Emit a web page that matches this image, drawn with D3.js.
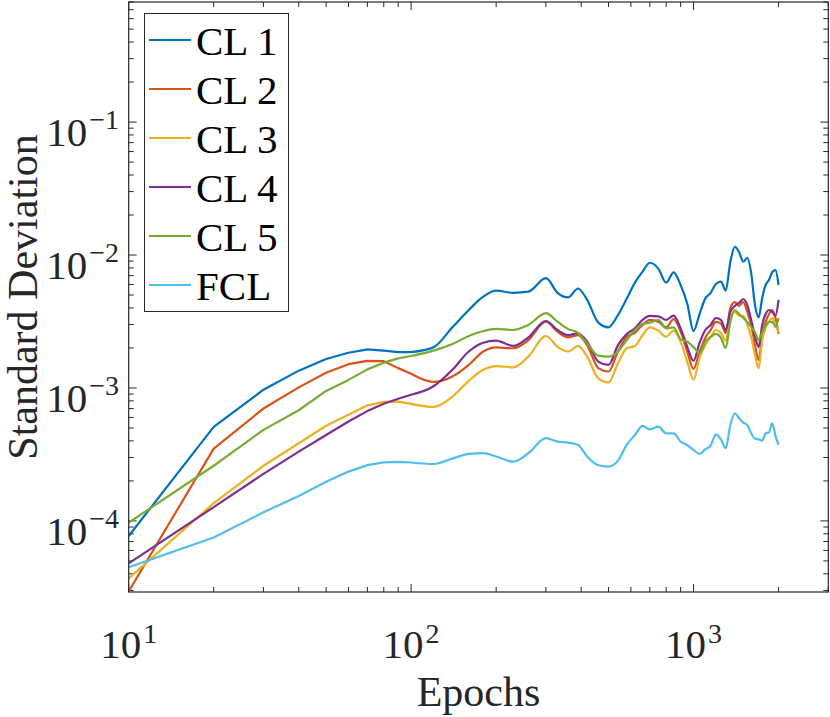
<!DOCTYPE html>
<html>
<head>
<meta charset="utf-8">
<script src="https://cdn.jsdelivr.net/npm/d3@7.9.0/dist/d3.min.js"></script>
<style>
  body { margin: 0; background: #fff; }
  svg { display: block; }
  text { font-family: 'Liberation Serif', 'Times New Roman', Times, serif; }
</style>
</head>
<body>
<svg width="830" height="717"></svg>
<script>
const epochs = [10,20,30,40,50,60,70,80,90,100,120,140,160,180,200,230,260,300,330,360,390,420,460,500,540,580,620,660,700,750,800,850,900,950,1000,1050,1100,1150,1200,1250,1300,1350,1400,1450,1500,1550,1600,1650,1700,1750,1800,1850,1900,1950,2000];

const cl1 = [7.7e-5,5.1e-4,9.7e-4,1.35e-3,1.65e-3,1.84e-3,1.95e-3,1.91e-3,1.86e-3,1.86e-3,2.02e-3,2.86e-3,3.86e-3,4.86e-3,5.39e-3,5.2e-3,5.3e-3,6.7e-3,5.2e-3,4.8e-3,5.6e-3,4.6e-3,3.1e-3,2.86e-3,3.54e-3,4.7e-3,6.2e-3,7.5e-3,8.75e-3,7.9e-3,6.2e-3,7.4e-3,5.95e-3,4.3e-3,2.68e-3,3.6e-3,4.7e-3,5.2e-3,6.05e-3,6.3e-3,5.4e-3,8.9e-3,1.15e-2,1.05e-2,8.9e-3,9.5e-3,7.3e-3,4.2e-3,3.4e-3,4.75e-3,5.95e-3,6.5e-3,7.45e-3,7.7e-3,5.95e-3];
const cl2 = [2.95e-5,3.5e-4,7.0e-4,1.01e-3,1.30e-3,1.51e-3,1.60e-3,1.59e-3,1.41e-3,1.28e-3,1.11e-3,1.22e-3,1.49e-3,1.88e-3,2.02e-3,1.99e-3,2.29e-3,3.15e-3,2.65e-3,2.4e-3,2.5e-3,2.1e-3,1.41e-3,1.33e-3,1.88e-3,2.43e-3,2.6e-3,2.98e-3,3.25e-3,3.15e-3,2.86e-3,3.29e-3,2.65e-3,1.88e-3,1.39e-3,1.86e-3,2.38e-3,2.73e-3,3.14e-3,3.05e-3,2.59e-3,4.0e-3,4.43e-3,4.14e-3,4.43e-3,3.73e-3,2.98e-3,2.1e-3,1.62e-3,2.46e-3,3.14e-3,3.6e-3,3.86e-3,3.36e-3,2.55e-3];
const cl3 = [3.7e-5,1.36e-4,2.6e-4,3.84e-4,5.2e-4,6.3e-4,7.4e-4,7.85e-4,7.9e-4,7.6e-4,7.2e-4,8.6e-4,1.13e-3,1.37e-3,1.46e-3,1.43e-3,1.72e-3,2.46e-3,2.04e-3,1.88e-3,2.07e-3,1.72e-3,1.18e-3,1.1e-3,1.53e-3,1.99e-3,2.07e-3,2.5e-3,2.86e-3,2.7e-3,2.43e-3,2.7e-3,2.23e-3,1.58e-3,1.15e-3,1.68e-3,2.1e-3,2.42e-3,2.73e-3,2.59e-3,2.26e-3,3.36e-3,3.73e-3,3.48e-3,3.48e-3,2.98e-3,2.42e-3,1.77e-3,1.41e-3,2.29e-3,2.83e-3,3.14e-3,3.36e-3,2.98e-3,2.63e-3];
const cl4 = [4.8e-5,1.27e-4,2.26e-4,3.32e-4,4.43e-4,5.6e-4,6.7e-4,7.6e-4,8.3e-4,8.9e-4,1.03e-3,1.37e-3,1.88e-3,2.19e-3,2.27e-3,2.07e-3,2.4e-3,3.19e-3,2.73e-3,2.5e-3,2.58e-3,2.23e-3,1.58e-3,1.49e-3,2.1e-3,2.55e-3,2.81e-3,3.25e-3,3.48e-3,3.45e-3,3.25e-3,3.5e-3,2.81e-3,2.04e-3,1.6e-3,2.18e-3,2.73e-3,2.98e-3,3.36e-3,3.25e-3,2.73e-3,3.73e-3,4.14e-3,4.36e-3,4.67e-3,4.2e-3,3.25e-3,2.46e-3,2.03e-3,2.98e-3,3.6e-3,3.86e-3,3.73e-3,3.48e-3,4.59e-3];
const cl5 = [9.7e-5,2.6e-4,4.84e-4,6.8e-4,9.5e-4,1.15e-3,1.38e-3,1.55e-3,1.67e-3,1.74e-3,1.91e-3,2.14e-3,2.46e-3,2.68e-3,2.78e-3,2.73e-3,2.98e-3,3.65e-3,3.15e-3,2.77e-3,2.6e-3,2.17e-3,1.75e-3,1.72e-3,1.88e-3,2.29e-3,2.73e-3,3.03e-3,3.1e-3,3.25e-3,2.81e-3,2.86e-3,2.32e-3,2.23e-3,2.03e-3,1.83e-3,2.22e-3,2.42e-3,2.55e-3,2.38e-3,2.0e-3,3.14e-3,3.86e-3,3.6e-3,3.36e-3,3.14e-3,2.88e-3,2.63e-3,2.29e-3,2.63e-3,2.93e-3,3.14e-3,3.14e-3,2.88e-3,3.36e-3];
const fcl = [4.48e-5,7.5e-5,1.16e-4,1.54e-4,1.97e-4,2.35e-4,2.63e-4,2.76e-4,2.78e-4,2.75e-4,2.68e-4,2.94e-4,3.19e-4,3.23e-4,3.05e-4,2.79e-4,3.23e-4,4.19e-4,3.95e-4,3.88e-4,3.73e-4,3.05e-4,2.62e-4,2.56e-4,2.84e-4,3.73e-4,4.43e-4,5.18e-4,4.89e-4,5.12e-4,4.56e-4,4.56e-4,3.95e-4,3.71e-4,3.42e-4,3.19e-4,3.46e-4,3.69e-4,4.48e-4,4.11e-4,3.52e-4,5.27e-4,6.45e-4,5.92e-4,5.48e-4,5.27e-4,4.56e-4,4.16e-4,4.11e-4,4.02e-4,4.56e-4,4.64e-4,5.43e-4,4.36e-4,3.73e-4];

const seriesNames = ['CL 1', 'CL 2', 'CL 3', 'CL 4', 'CL 5', 'FCL'];
const seriesValues = [cl1, cl2, cl3, cl4, cl5, fcl];
const colors = ['#0072BD', '#D95319', '#EDB120', '#7E2F8E', '#77AC30', '#4DBEEE'];

const xTicks = [10, 100, 1000];
const xTickExp = ['1', '2', '3'];
const yTicks = [1e-4, 1e-3, 1e-2, 1e-1];
const yTickExp = ['\u22124', '\u22123', '\u22122', '\u22121'];

const plotLeft = 128.7, plotRight = 828.3, plotTop = 2, plotBottom = 592;
const axisColor = '#262626';
const serif = 'Liberation Serif, Times New Roman, Times, serif';

const x = d3.scaleLog().domain([10, 3000]).range([plotLeft, plotRight]);
const y = d3.scaleLog().domain([2.92e-5, 0.8]).range([plotBottom, plotTop]);

const svg = d3.select('svg');

svg.append('clipPath').attr('id', 'plotclip')
  .append('rect').attr('x', plotLeft).attr('y', plotTop)
  .attr('width', plotRight - plotLeft).attr('height', plotBottom - plotTop);

// minor ticks
let xMinor = [];
[10, 100, 1000].forEach(d => { for (let k = 2; k <= 9; k++) if (d * k <= 3000) xMinor.push(d * k); });
let yMinor = [];
[1e-5, 1e-4, 1e-3, 1e-2, 1e-1].forEach(d => {
  for (let k = 2; k <= 9; k++) { let v = d * k; if (v >= 2.92e-5 && v <= 0.8) yMinor.push(v); }
});

let ticks = svg.append('g').attr('stroke', axisColor).attr('stroke-width', 1);
xMinor.forEach(v => {
  ticks.append('line').attr('x1', x(v)).attr('x2', x(v)).attr('y1', plotBottom).attr('y2', plotBottom - 5);
  ticks.append('line').attr('x1', x(v)).attr('x2', x(v)).attr('y1', plotTop).attr('y2', plotTop + 5);
});
xTicks.forEach(v => {
  ticks.append('line').attr('x1', x(v)).attr('x2', x(v)).attr('y1', plotBottom).attr('y2', plotBottom - 8);
  ticks.append('line').attr('x1', x(v)).attr('x2', x(v)).attr('y1', plotTop).attr('y2', plotTop + 8);
});
yMinor.forEach(v => {
  ticks.append('line').attr('x1', plotLeft).attr('x2', plotLeft + 5).attr('y1', y(v)).attr('y2', y(v));
  ticks.append('line').attr('x1', plotRight).attr('x2', plotRight - 5).attr('y1', y(v)).attr('y2', y(v));
});
yTicks.forEach(v => {
  ticks.append('line').attr('x1', plotLeft).attr('x2', plotLeft + 8).attr('y1', y(v)).attr('y2', y(v));
  ticks.append('line').attr('x1', plotRight).attr('x2', plotRight - 8).attr('y1', y(v)).attr('y2', y(v));
});

// lines: straight segments for the sparse early epochs, smoothed after 100
let lineEarly = d3.line()
  .x((d) => x(d[0]))
  .y((d) => y(d[1]));
let lineLate = d3.line()
  .x((d) => x(d[0]))
  .y((d) => y(d[1]))
  .curve(d3.curveMonotoneX);
const splitAt = epochs.indexOf(100);

let plot = svg.append('g').attr('clip-path', 'url(#plotclip)');
seriesValues.forEach((vals, idx) => {
  let pts = epochs.map((e, i) => [e, vals[i]]);
  let d = lineEarly(pts.slice(0, splitAt + 1)) + lineLate(pts.slice(splitAt)).replace(/^M[^A-Za-z]*/, '');
  plot.append('path')
    .attr('d', d)
    .attr('fill', 'none')
    .attr('stroke', colors[idx])
    .attr('stroke-width', 2.2)
    .attr('stroke-linejoin', 'round');
});

// box
svg.append('rect')
  .attr('x', plotLeft).attr('y', plotTop)
  .attr('width', plotRight - plotLeft).attr('height', plotBottom - plotTop)
  .attr('fill', 'none').attr('stroke', axisColor).attr('stroke-width', 1.2);

// tick labels
xTicks.forEach((v, i) => {
  let t = svg.append('text').attr('x', x(v)).attr('y', 658).attr('font-family', serif)
    .attr('text-anchor', 'middle').attr('font-size', 41).attr('fill', axisColor);
  t.append('tspan').text('10');
  t.append('tspan').attr('dx', 2).attr('dy', -15).attr('font-size', 28).text(xTickExp[i]);
});
yTicks.forEach((v, i) => {
  let t = svg.append('text').attr('x', 119).attr('y', y(v) + 24).attr('font-family', serif)
    .attr('text-anchor', 'end').attr('font-size', 41).attr('fill', axisColor);
  t.append('tspan').text('10');
  t.append('tspan').attr('dx', 2).attr('dy', -17).attr('font-size', 28).text(yTickExp[i]);
});

// axis titles
svg.append('text').attr('x', (plotLeft + plotRight) / 2).attr('y', 706).attr('font-family', serif)
  .attr('text-anchor', 'middle').attr('font-size', 42).attr('fill', axisColor).text('Epochs');
svg.append('text').attr('font-family', serif)
  .attr('transform', `translate(37,${(plotTop + plotBottom) / 2}) rotate(-90)`)
  .attr('text-anchor', 'middle').attr('font-size', 42).attr('fill', axisColor).text('Standard Deviation');

// legend
let legend = svg.append('g');
legend.append('rect').attr('x', 144.5).attr('y', 13.5).attr('width', 144).attr('height', 298)
  .attr('fill', '#fff').attr('stroke', axisColor).attr('stroke-width', 1);
seriesNames.forEach((name, idx) => {
  let cy = 40 + idx * 49;
  legend.append('line').attr('x1', 149).attr('x2', 191).attr('y1', cy).attr('y2', cy)
    .attr('stroke', colors[idx]).attr('stroke-width', 2.2);
  legend.append('text').attr('x', 196).attr('y', cy + 15).attr('font-family', serif)
    .attr('font-size', 41).attr('fill', '#000').text(name);
});
</script>
</body>
</html>
